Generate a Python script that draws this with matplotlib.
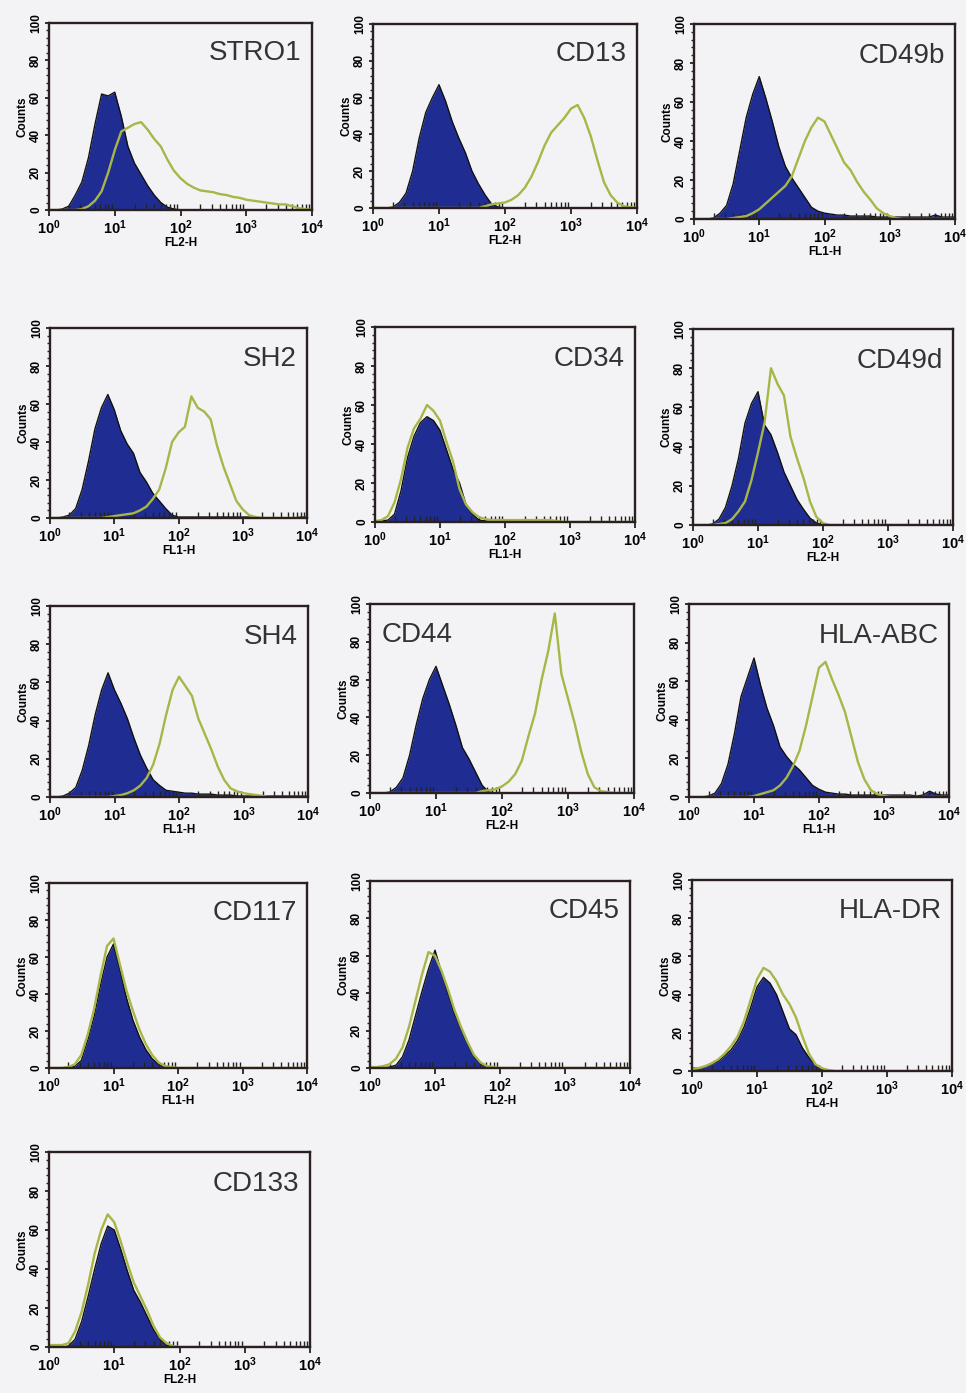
import numpy as np
import matplotlib
matplotlib.use("Agg")
import matplotlib.pyplot as plt
from matplotlib.ticker import FixedLocator, MultipleLocator, FuncFormatter, LogLocator, NullFormatter

plt.rcParams["font.family"] = ["Liberation Sans", "DejaVu Sans"]
plt.rcParams["font.weight"] = "bold"
plt.rcParams["mathtext.fontset"] = "custom"
plt.rcParams["mathtext.rm"] = "Liberation Sans:bold"
plt.rcParams["mathtext.bf"] = "Liberation Sans:bold"

# -------------------------------
# Data (log10 fluorescence channel vs. counts)
# -------------------------------
LOG_X = [0.0, 0.1, 0.2, 0.3, 0.4, 0.5, 0.6, 0.7, 0.8, 0.9,
         1.0, 1.1, 1.2, 1.3, 1.4, 1.5, 1.6, 1.7, 1.8, 1.9,
         2.0, 2.1, 2.2, 2.3, 2.4, 2.5, 2.6, 2.7, 2.8, 2.9,
         3.0, 3.1, 3.2, 3.3, 3.4, 3.5, 3.6, 3.7, 3.8, 3.9, 4.0]

markers = ["STRO1", "CD13", "CD49b",
           "SH2", "CD34", "CD49d",
           "SH4", "CD44", "HLA-ABC",
           "CD117", "CD45", "HLA-DR",
           "CD133"]
channels = ["FL2-H", "FL2-H", "FL1-H",
            "FL1-H", "FL1-H", "FL2-H",
            "FL1-H", "FL2-H", "FL1-H",
            "FL1-H", "FL2-H", "FL4-H",
            "FL2-H"]

Z10 = [0] * 10
Z11 = [0] * 11

stro1_blue = [0, 0, 0.5, 2, 8, 15, 28, 46, 62, 61,
              63, 50, 34, 25, 19, 13, 8, 4, 1.5, 0.5] + Z10 + Z11
stro1_green = [0, 0, 0, 0, 0, 0.5, 2, 5, 10, 20,
               32, 42, 44, 46, 47, 43, 38, 34, 27, 21,
               17, 14, 12, 10.5, 10, 9.5, 8.5, 8, 7, 6.5,
               5.5, 5, 4.5, 4, 3.5, 3, 3, 2, 1, 0.5, 0]

cd13_blue = [0, 0, 0, 0.5, 3, 8, 20, 38, 52, 60,
             67, 58, 47, 38, 30, 20, 13, 7, 2, 0.5] + Z10 + Z11
cd13_green = Z10 + [0, 0, 0, 0, 0, 0, 0, 1, 2, 2.5,
                    3, 4.5, 7, 11, 17, 25, 34, 41, 45, 49,
                    54, 56, 49, 39, 26, 14, 7, 3, 1, 0.5, 0]

cd49b_blue = [0, 0, 0, 0.5, 3, 7, 18, 35, 52, 64,
              73, 62, 50, 37, 27, 21, 16, 11, 6, 4,
              3, 2.5, 2, 2, 1.5, 1.5, 1.5, 1.5, 1, 1,
              1, 1, 1, 1, 1, 1, 1, 2, 1, 1, 1]
cd49b_green = [0, 0, 0, 0, 0, 0, 0.5, 1, 1.5, 3,
               5, 8, 11, 14, 17, 22, 31, 40, 47, 52,
               50, 43, 36, 29, 25, 19, 14, 10, 5.5, 3,
               1.5, 0.5, 0, 0, 0, 0, 0, 0, 0, 0, 0]

sh2_blue = [0, 0, 0.5, 1.5, 5, 15, 30, 47, 58, 65,
            57, 46, 39, 34, 24, 19, 13, 9, 5, 1.5,
            0.5, 0.5, 0.5, 0.5, 0.5, 0.5, 0.5, 0.5, 0.5, 0.5,
            0.5, 0.5, 0, 0, 0, 0, 0, 0, 0, 0.5, 0.5]
sh2_green = [0, 0, 0, 0, 0, 0, 0, 0, 0, 0.5,
             1, 1.5, 2, 2.5, 4, 6, 10, 15, 26, 40,
             45, 48, 64, 58, 56, 52, 38, 27, 18, 9,
             4.5, 1.5, 0.5, 0, 0, 0, 0, 0, 0, 0, 0]

cd34_blue = [0, 0.5, 1, 4, 16, 33, 44, 51, 54, 52,
             47, 37, 27, 20, 9, 4, 1, 0.5, 0, 0] + Z10 + Z11
cd34_green = [0.5, 1, 3, 10, 22, 38, 48, 53, 60, 57,
              52, 41, 31, 17, 9, 5, 2.5, 1.5, 1, 1,
              1, 1, 1, 1, 1, 1, 1, 1, 0.5, 0] + Z11

cd49d_blue = [0, 0, 0, 0.5, 3, 9, 20, 34, 52, 62,
              68, 51, 46, 37, 27, 20, 13, 8, 3.5, 1] + Z10 + Z11
cd49d_green = [0, 0, 0, 0, 0.5, 1, 3, 7, 12, 23,
               37, 52, 80, 72, 66, 45, 34, 24, 12, 4,
               1, 0, 0, 0, 0, 0, 0, 0, 0, 0] + Z11

sh4_blue = [0, 0, 0.5, 2, 5, 14, 27, 43, 56, 65,
            56, 49, 41, 31, 22, 15, 9, 6, 3.5, 3,
            2.5, 2, 2, 1.5, 1.5, 1.5, 1, 1, 1, 0.5,
            0.5, 0.5, 0.5, 0.5, 0.5, 0.5, 0.5, 0.5, 0.5, 0.5, 0.5]
sh4_green = Z10 + [0.5, 1, 2, 3.5, 6, 10, 17, 28, 43, 56,
                   63, 58, 53, 41, 33, 25, 16, 9, 4.5, 3,
                   2, 1.5, 1, 0.5, 0, 0, 0, 0, 0, 0, 0]

cd44_blue = [0, 0, 0, 0.5, 3, 8, 20, 36, 50, 60,
             67, 57, 47, 36, 24, 18, 11, 4, 0.5, 0] + Z10 + Z11
cd44_green = Z10 + [0, 0, 0, 0, 0, 0, 0, 1, 1.5, 2,
                    3.5, 6, 10, 17, 30, 42, 60, 75, 95, 63,
                    50, 37, 22, 10, 3, 1, 0.5, 0, 0, 0, 0]

hla_abc_blue = [0, 0, 0, 0.5, 2, 7, 17, 33, 52, 62,
                72, 58, 46, 37, 26, 21, 17, 14, 10, 6,
                4, 2.5, 2, 1.5, 1.5, 1, 1, 1, 1, 1,
                1, 1, 1, 1, 1, 0.5, 1, 3, 1.5, 1, 1]
hla_abc_green = Z10 + [0.5, 1.5, 2.5, 3.5, 6, 10, 16, 24, 37, 52,
                       67, 70, 61, 53, 44, 31, 18, 9, 3.5, 1.5,
                       0.5, 0, 0, 0, 0, 0, 0, 0, 0, 0, 0]

cd117_blue = [0, 0, 0, 0.5, 1, 4, 15, 28, 45, 60,
              67, 53, 38, 26, 17, 10, 5, 2, 0.5, 0] + Z10 + Z11
cd117_green = [0, 0, 0, 0.5, 2, 7, 18, 32, 50, 66,
               70, 56, 42, 31, 21, 13, 7, 3, 1, 0.5] + Z10 + Z11

cd45_blue = [0, 0, 0, 0.5, 1.5, 6, 15, 28, 41, 53,
             63, 51, 40, 29, 21, 13, 6, 2.5, 0.5, 0] + Z10 + Z11
cd45_green = [0.5, 0.5, 1, 2, 5, 11, 22, 36, 50, 62,
              60, 52, 42, 31, 22, 14, 7, 3, 1, 0.5] + Z10 + Z11

hla_dr_blue = [1.5, 1.5, 2, 3.5, 5, 8, 11, 16, 23, 33,
               44, 49, 46, 40, 31, 22, 19, 12, 7, 3,
               1, 0, 0, 0, 0, 0, 0, 0, 0, 0] + Z11
hla_dr_green = [1, 1.5, 2.5, 4, 6, 9, 13, 18, 26, 37,
                48, 54, 52, 47, 40, 35, 28, 18, 9, 3.5,
                1.5, 0.5, 0, 0, 0, 0, 0, 0, 0, 0] + Z11

cd133_blue = [0, 0, 0, 0.5, 4, 13, 26, 40, 53, 62,
              60, 50, 39, 29, 23, 16, 9, 4, 1, 0] + Z10 + Z11
cd133_green = [1, 1, 1, 2, 8, 18, 32, 48, 60, 68,
               64, 54, 43, 33, 26, 19, 11, 5, 2, 0.5] + Z10 + Z11

control_counts = [stro1_blue, cd13_blue, cd49b_blue, sh2_blue, cd34_blue,
                  cd49d_blue, sh4_blue, cd44_blue, hla_abc_blue, cd117_blue,
                  cd45_blue, hla_dr_blue, cd133_blue]
stained_counts = [stro1_green, cd13_green, cd49b_green, sh2_green, cd34_green,
                  cd49d_green, sh4_green, cd44_green, hla_abc_green, cd117_green,
                  cd45_green, hla_dr_green, cd133_green]

# axes boxes in pixels of the scan: left, top, right, bottom
boxes = [(49, 23, 312, 210), (373, 24, 637, 208), (694, 24, 955, 219),
         (50, 328, 307, 518), (375, 327, 635, 522), (693, 329, 953, 525),
         (50, 606, 308, 797), (370, 604, 634, 793), (689, 604, 949, 797),
         (49, 883, 307, 1068), (370, 881, 630, 1068), (692, 880, 952, 1071),
         (49, 1152, 310, 1347)]

W, H = 966, 1393
BG = "#f3f3f6"
FILL = "#1f2d92"
GREEN = "#a8b648"

fig = plt.figure(figsize=(W / 100, H / 100), dpi=100, facecolor=BG)

x = 10 ** np.array(LOG_X)


def decade_label(v, pos):
    return r"$\mathbf{10^{%d}}$" % int(round(np.log10(v)))


for i, name in enumerate(markers):
    l, t, r, b = boxes[i]
    ax = fig.add_axes([l / W, 1 - b / H, (r - l) / W, (b - t) / H])
    ax.set_facecolor(BG)

    blue = np.array(control_counts[i])
    green = np.array(stained_counts[i])
    ax.fill_between(x, 0, blue, color=FILL, lw=0, zorder=1)
    ax.plot(x, blue, color="#111111", lw=1.0, zorder=1.5)
    ax.plot(x, green, color=GREEN, lw=1.7, zorder=1.6)

    ax.set_xscale("log")
    ax.set_xlim(1, 10 ** 4)
    ax.set_ylim(0, 100)

    ax.xaxis.set_major_locator(FixedLocator([1, 10, 100, 1000, 10000]))
    ax.xaxis.set_major_formatter(FuncFormatter(decade_label))
    ax.xaxis.set_minor_locator(LogLocator(base=10, subs=np.arange(2, 10), numticks=20))
    ax.xaxis.set_minor_formatter(NullFormatter())
    ax.yaxis.set_major_locator(MultipleLocator(20))
    ax.yaxis.set_minor_locator(MultipleLocator(4))

    ax.tick_params(axis="x", which="major", direction="out", length=4, width=1.3,
                   labelsize=10.5, pad=2, color="#222222")
    ax.tick_params(axis="x", which="minor", direction="in", length=4, width=1.0,
                   color="#222222")
    ax.tick_params(axis="y", which="major", direction="out", length=3, width=1.3,
                   labelsize=8.5, pad=2, labelrotation=90, color="#222222")
    ax.tick_params(axis="y", which="minor", direction="out", length=2, width=1.0,
                   color="#222222")
    for lab in ax.get_yticklabels():
        lab.set_va("center")

    for sp in ax.spines.values():
        sp.set_linewidth(1.7)
        sp.set_color("#2a2020")

    ax.set_xlabel(channels[i], fontsize=8.5, fontweight="bold", labelpad=0)
    ax.set_ylabel("Counts", fontsize=8.5, fontweight="bold", labelpad=1)

    if name == "CD44":
        ax.text(0.045, 0.80, name, transform=ax.transAxes, fontsize=20,
                fontweight="normal", color="#333333", ha="left", va="baseline")
    else:
        ax.text(0.96, 0.80, name, transform=ax.transAxes, fontsize=20,
                fontweight="normal", color="#333333", ha="right", va="baseline")

fig.savefig("out.png", dpi=100, facecolor=fig.get_facecolor())
